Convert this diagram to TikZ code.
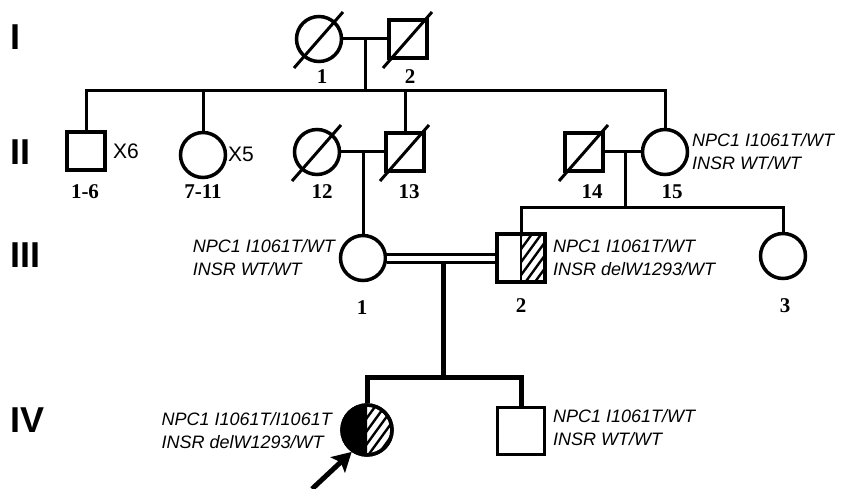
\documentclass[tikz,border=0pt]{standalone}
\usepackage{fontspec}
\setmainfont{Liberation Sans}
\newfontfamily\numfont{Liberation Serif}
\usetikzlibrary{arrows.meta, calc}

\tikzset{
  female/.style={circle, draw, line width=3.5pt, minimum size=45pt, inner sep=0pt},
  male/.style={rectangle, draw, line width=3.5pt, minimum size=38pt, inner sep=0pt},
  idnum/.style={font=\numfont\bfseries\fontsize{21}{24}\selectfont, inner sep=0pt},
  gen/.style={anchor=west, inner sep=0pt, font=\bfseries\fontsize{36}{40}\selectfont},
  geno/.style={font=\itshape\fontsize{18}{23}\selectfont, align=left, inner sep=0pt},
  times/.style={anchor=west, inner sep=0pt, font=\fontsize{21}{24}\selectfont},
  kin/.style={line width=3pt},
  kinbold/.style={line width=5pt},
  hatch/.style={line width=2.4pt}
}

\begin{document}
\begin{tikzpicture}[x=1pt, y=-1pt]
\useasboundingbox (0,0) rectangle (843,489);
\node[gen] (g1) at (10,37) {I};
\node[gen] (g2) at (10,152) {II};
\node[gen] (g3) at (10,255) {III};
\node[gen] (g4) at (10,420) {IV};
\node[female] (I1) at (319,39) {};
\node[male] (I2) at (408,39) {};
\node[male] (II1) at (86,151) {};
\node[female] (II7) at (203,155) {};
\node[female] (II12) at (317,152) {};
\node[male] (II13) at (405,152) {};
\node[male] (II14) at (584,152) {};
\node[female] (II15) at (665,152) {};
\node[female] (III1) at (363,258) {};
\node[male, minimum size=48pt] (III2) at (521,258) {};
\node[female] (III3) at (783,256) {};
\node[female, minimum size=50pt] (IV1) at (367,430) {};
\node[male, minimum size=47pt] (IV2) at (521,431) {};
\node[times] (x6) at (113,151) {X6};
\node[times] (x5) at (228,154) {X5};
\foreach \x/\y/\t [count=\i] in {322/77/1, 410/77/2, 85/192/1-6, 203/192/7-11,
  322/192/12, 409/192/13, 592/192/14, 672/192/15, 362/308/1, 521/306/2, 785/306/3}
  \node[idnum] (num\i) at (\x,\y) {\t};
\foreach \p in {I1,I2,II12,II13,II14}
  \draw[kin] ($(\p)+(-25,29)$) -- ($(\p)+(24,-27)$);
\coordinate (m1) at (365,40);
\coordinate (s1) at (365,91);
\coordinate (m3) at (625,152);
\coordinate (s3) at (625,208);
\coordinate (m4) at (443,262);
\coordinate (s4) at (443,377);
\draw[kin] (I1) -- (I2);
\draw[kin] (m1) -- (s1);
\draw[kin, line join=miter] (II1.north) -- (II1 |- s1) -- (II15 |- s1) -- (II15.north);
\foreach \c in {II7,II13}
  \draw[kin] (\c |- s1) -- (\c.north);
\draw[kin] (II12) -- (II13);
\draw[kin] (III1 |- II12) -- (III1.north);
\draw[kin] (II14) -- (II15);
\draw[kin] (m3) -- (s3);
\draw[kin, line join=miter] (III2.north) -- (III2 |- s3) -- (III3 |- s3) -- (III3.north);
\draw[kin, double distance=5pt] (III1.east) -- (III2.west);
\draw[kinbold] (m4) -- (s4);
\draw[kinbold, line join=miter] (IV1.north) -- (IV1 |- s4) -- (IV2 |- s4) -- (IV2.north);
\begin{scope}
\clip (521,234) rectangle (545,282);
\foreach \k in {0,...,9}
  \draw[hatch] (500,330-\k*13) -- ++(64,-88);
\end{scope}
\draw[line width=1.5pt] (521,234) -- (521,282);
\begin{scope}
\clip (340,400) rectangle (367,460);
\fill (IV1.center) circle[radius=26];
\end{scope}
\begin{scope}
\clip (367,400) rectangle (397,460);
\clip (IV1.center) circle[radius=25];
\foreach \k in {0,...,10}
  \draw[hatch] (345,500-\k*13) -- ++(64,-88);
\end{scope}
\draw[line width=3.5pt] (IV1.center) circle[radius=25];
\coordinate (ptr) at (312,489);
\draw[line width=5pt, -{Stealth[length=19pt,width=21pt,inset=4pt]}] (ptr) -- (IV1.235);
\node[geno, anchor=west] (t15) at (692,152) {NPC1 I1061T/WT\\INSR WT/WT};
\node[geno, anchor=east] (t31) at (335,258) {NPC1 I1061T/WT\\INSR WT/WT};
\node[geno, anchor=west] (t32) at (553,258) {NPC1 I1061T/WT\\INSR delW1293/WT};
\node[geno, anchor=east] (t41) at (332,431) {NPC1 I1061T/I1061T\\INSR delW1293/WT};
\node[geno, anchor=west] (t42) at (553,428) {NPC1 I1061T/WT\\INSR WT/WT};
\end{tikzpicture}
\end{document}
